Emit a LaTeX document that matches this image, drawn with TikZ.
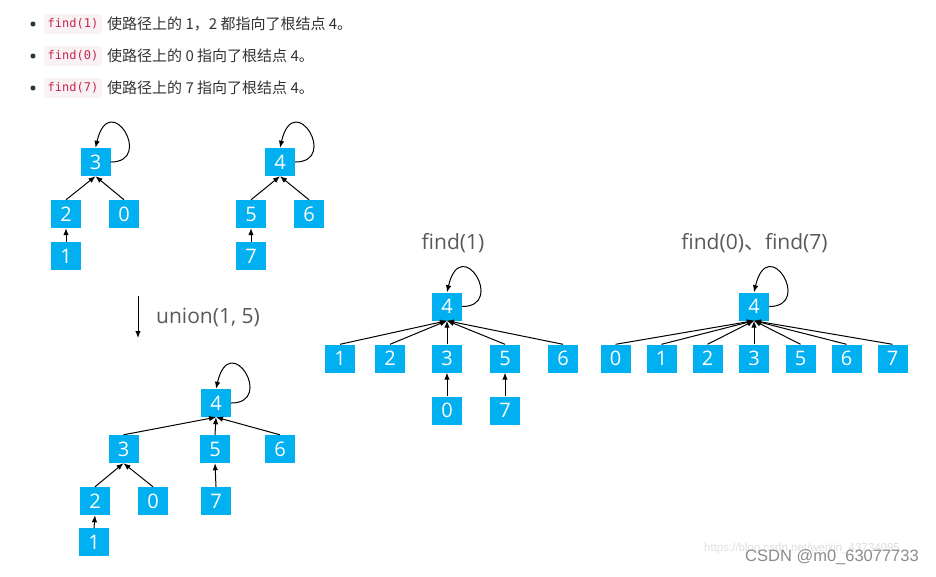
\documentclass[tikz,border=0pt]{standalone}
\usepackage{fontspec}
\setmainfont{Open Sans}
\newfontfamily\cjk{Noto Sans CJK SC}
\newfontfamily\monof{DejaVu Sans Mono}
\newfontfamily\arialf{Liberation Sans}
\newfontfamily\segf{Open Sans}
\usetikzlibrary{arrows.meta}
\definecolor{nodeblue}{HTML}{00B0F0}
\definecolor{codebg}{HTML}{F9F2F4}
\definecolor{codefg}{HTML}{C7254E}
\definecolor{txt}{HTML}{333333}
\definecolor{lbl}{HTML}{595959}
\tikzset{
  box/.style={fill=nodeblue, minimum width=30pt, minimum height=28pt, inner sep=0pt,
    text=white, font=\segf\fontsize{20}{20}\selectfont},
  edge/.style={-{Latex[length=7pt,width=5.5pt]}, line width=1pt, black},
  bul/.style={circle, fill=txt, inner sep=0pt, minimum size=5pt},
  codebox/.style={fill=codebg, rounded corners=2pt, inner xsep=3.5pt, inner ysep=0pt,
    minimum height=20pt, text=codefg, font=\monof\fontsize{12}{12}\selectfont, anchor=west},
  desc/.style={anchor=west, text=txt, inner sep=0pt, font=\cjk\fontsize{15}{15}\selectfont},
  title/.style={text=lbl, inner sep=0pt, font=\segf\fontsize{21}{21}\selectfont},
  selfloop/.style={edge, to path={.. controls +(44,0) and +(14,-60) .. (\tikztotarget)}},
}
\begin{document}
\begin{tikzpicture}[x=1pt,y=-1pt]
\useasboundingbox[fill=white] (0,0) rectangle (936,576);

% ---- bullet list ----
\node[bul] (b1) at (33,24) {};
\node[codebox] (c1) at (44,24) {find(1)};
\node[desc] (d1) at ([xshift=5pt]c1.east) {使路径上的 1，2 都指向了根结点 4。};
\node[bul] (b2) at (33,56) {};
\node[codebox] (c2) at (44,56) {find(0)};
\node[desc] (d2) at ([xshift=5pt]c2.east) {使路径上的 0 指向了根结点 4。};
\node[bul] (b3) at (33,88) {};
\node[codebox] (c3) at (44,88) {find(7)};
\node[desc] (d3) at ([xshift=5pt]c3.east) {使路径上的 7 指向了根结点 4。};

% ---- tree A (root 3) ----
\node[box] (a3) at (95.5,162) {3};
\node[box] (a2) at (66,214) {2};
\node[box] (a0) at (124,214) {0};
\node[box] (a1) at (66,256) {1};
\draw[edge] (a2.north) -- (a3.south);
\draw[edge] (a0.north) -- (a3.south);
\draw[edge] (a1.north) -- (a2.south);
\draw[selfloop] (a3.east) to (a3.north);

% ---- tree B (root 4) ----
\node[box] (b4) at (280,162) {4};
\node[box] (b5) at (251,214) {5};
\node[box] (b6) at (309,214) {6};
\node[box] (b7) at (251,256) {7};
\draw[edge] (b5.north) -- (b4.south);
\draw[edge] (b6.north) -- (b4.south);
\draw[edge] (b7.north) -- (b5.south);
\draw[selfloop] (b4.east) to (b4.north);

% ---- union arrow ----
\coordinate (ua) at (138,296);
\coordinate (ub) at (138,338);
\draw[edge] (ua) -- (ub);
\node[title, anchor=west] (ul) at (156,317) {union(1, 5)};

% ---- union result ----
\node[box] (u4) at (216,403) {4};
\node[box] (u3) at (123.5,449) {3};
\node[box] (u5) at (215,449) {5};
\node[box] (u6) at (280,449) {6};
\node[box] (u2) at (95,501) {2};
\node[box] (u0) at (153,501) {0};
\node[box] (u7) at (216,501) {7};
\node[box] (u1) at (94,542) {1};
\draw[edge] (u3.north) -- (u4.south);
\draw[edge] (u5.north) -- (u4.south);
\draw[edge] (u6.north) -- (u4.south);
\draw[edge] (u2.north) -- (u3.south);
\draw[edge] (u0.north) -- (u3.south);
\draw[edge] (u7.north) -- (u5.south);
\draw[edge] (u1.north) -- (u2.south);
\draw[selfloop] (u4.east) to (u4.north);

% ---- find(1) ----
\node[title] (f1t) at (453,243) {find(1)};
\node[box] (f4) at (447,306.5) {4};
\node[box] (f1) at (340,358.5) {1};
\node[box] (f2) at (390,358.5) {2};
\node[box] (f3) at (447,358.5) {3};
\node[box] (f5) at (505,358.5) {5};
\node[box] (f6) at (563,358.5) {6};
\node[box] (f0) at (447,410.5) {0};
\node[box] (f7) at (505,410.5) {7};
\foreach \c in {f1,f2,f3,f5,f6} \draw[edge] (\c.north) -- (f4.south);
\draw[edge] (f0.north) -- (f3.south);
\draw[edge] (f7.north) -- (f5.south);
\draw[selfloop] (f4.east) to (f4.north);

% ---- find(0), find(7) ----
\node[title] (g1t) at (754.5,243) {find(0){\cjk 、}find(7)};
\node[box] (g4) at (754,306.5) {4};
\node[box] (g0) at (615.5,358.5) {0};
\node[box] (g1) at (661.5,358.5) {1};
\node[box] (g2) at (707.5,358.5) {2};
\node[box] (g3) at (754,358.5) {3};
\node[box] (g5) at (800.5,358.5) {5};
\node[box] (g6) at (846.5,358.5) {6};
\node[box] (g7) at (892.5,358.5) {7};
\foreach \c in {g0,g1,g2,g3,g5,g6,g7} \draw[edge] (\c.north) -- (g4.south);
\draw[selfloop] (g4.east) to (g4.north);

% ---- watermark ----
\node[anchor=west, inner sep=0pt, text=black!13, font=\arialf\fontsize{11.5}{11.5}\selectfont] (wm1) at (704,549) {https://blog.csdn.net/weixin\_43734095};
\node[inner sep=0pt, text=black!45, font=\arialf\fontsize{16.5}{16.5}\selectfont] (wm2) at (832,557) {CSDN @m0\_63077733};
\end{tikzpicture}
\end{document}
